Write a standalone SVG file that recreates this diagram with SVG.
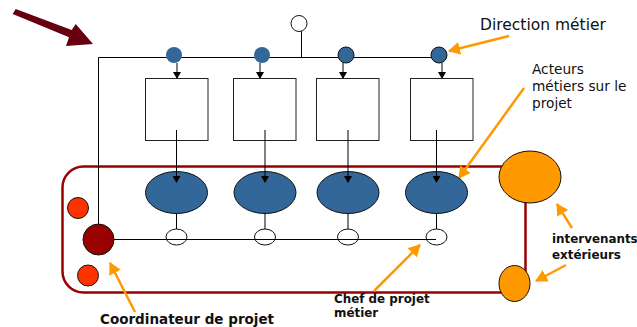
<svg xmlns="http://www.w3.org/2000/svg" width="637" height="327" viewBox="0 0 637 327">
<style>
text{font-family:"DejaVu Sans",Verdana,sans-serif;fill:#111}
.d{font-size:15.500px}
.r{font-size:13.700px}
.c{font-size:13.500px;font-weight:bold}
.b{font-size:11.900px;font-weight:bold}
.l{fill:none;stroke:#000;stroke-width:1}
.box{fill:#fff;stroke:#222;stroke-width:1}
.blue{fill:#336699;stroke:#111;stroke-width:1}
.wh{fill:#fff;stroke:#111;stroke-width:1}
.red{fill:#ff3300;stroke:#111;stroke-width:1}
.or{fill:#ff9900;stroke:#111;stroke-width:1}
.oa{fill:none;stroke:#ff9900;stroke-width:2.500;marker-end:url(#oh)}
</style>
<defs>
<marker id="ah" markerUnits="userSpaceOnUse" markerWidth="8" markerHeight="8" refX="6" refY="4" orient="auto"><path d="M0 0L7 4L0 8Z" fill="#000"/></marker>
<marker id="oh" markerUnits="userSpaceOnUse" markerWidth="14" markerHeight="14" refX="11" refY="6.500" orient="auto"><path d="M0 0L12 6.500L0 13Z" fill="#ff9900"/></marker>
</defs>
<polygon id="main-arrow" points="12.700,14 15.700,9 71.700,30 75.700,24 93,44 66,46 69,37.300" fill="#660011"/>
<g id="frame"><rect x="62.500" y="166.500" width="463" height="126" rx="21" fill="none" stroke="#990000" stroke-width="2.500"/></g>
<g id="connectors">
<path class="l" d="M98.500 239V57.500H439"/>
<path class="l" d="M301.500 31V57.500"/>
<path class="l" d="M177 63V78" marker-end="url(#ah)"/>
<path class="l" d="M260 63V78" marker-end="url(#ah)"/>
<path class="l" d="M343 63V78" marker-end="url(#ah)"/>
<path class="l" d="M442 63V78" marker-end="url(#ah)"/>
<path class="l" d="M114 239.500H436"/>
<path class="oa" d="M509 36L449 51"/>
<path class="oa" d="M524 88L459 178"/>
<path class="oa" d="M135 312L110 263"/>
<path class="oa" d="M374 291L420 245"/>
<path class="oa" d="M572 228L557 204"/>
<path class="oa" d="M566 265L536 281"/>
</g>
<g id="top-node"><circle cx="299" cy="23.500" r="8" class="wh"/></g>
<g id="direction-1"><circle cx="174" cy="55" r="8" fill="#336699"/></g>
<g id="direction-2"><circle cx="262" cy="55" r="8" fill="#336699"/></g>
<g id="direction-3"><circle cx="346" cy="55" r="8" class="blue"/></g>
<g id="direction-4"><circle cx="439" cy="55" r="8" class="blue"/></g>
<g id="box-1"><rect x="145.500" y="78.500" width="62.500" height="62" class="box"/></g>
<g id="box-2"><rect x="233.500" y="78.500" width="62.500" height="62" class="box"/></g>
<g id="box-3"><rect x="316.500" y="78.500" width="62.500" height="62" class="box"/></g>
<g id="box-4"><rect x="410.500" y="78.500" width="62.500" height="62" class="box"/></g>
<g id="actor-1"><ellipse cx="176.500" cy="192.500" rx="31" ry="21" class="blue"/></g>
<g id="actor-2"><ellipse cx="265" cy="192.500" rx="31" ry="21" class="blue"/></g>
<g id="actor-3"><ellipse cx="348" cy="192.500" rx="31" ry="21" class="blue"/></g>
<g id="actor-4"><ellipse cx="436.500" cy="192.500" rx="31" ry="21" class="blue"/></g>
<g id="connectors-inner">
<path class="l" d="M176.500 130V182" marker-end="url(#ah)"/>
<path class="l" d="M265 130V182" marker-end="url(#ah)"/>
<path class="l" d="M348 130V182" marker-end="url(#ah)"/>
<path class="l" d="M436.500 130V182" marker-end="url(#ah)"/>
<path class="l" d="M176.500 213.500V229M265 213.500V229M348 213.500V229M436.500 213.500V229"/>
</g>
<g id="chef-1"><ellipse cx="176.500" cy="237" rx="10.500" ry="8" fill="none" stroke="#111"/></g>
<g id="chef-2"><ellipse cx="265" cy="237" rx="10.500" ry="8" fill="none" stroke="#111"/></g>
<g id="chef-3"><ellipse cx="348" cy="237" rx="10.500" ry="8" fill="none" stroke="#111"/></g>
<g id="chef-4"><ellipse cx="436.500" cy="237" rx="10.500" ry="8" fill="none" stroke="#111"/></g>
<g id="coordinateur"><circle cx="98.500" cy="239.500" r="15.500" fill="#990000" stroke="#111"/></g>
<g id="red-1"><circle cx="78" cy="208" r="10.500" class="red"/></g>
<g id="red-2"><circle cx="88" cy="275.500" r="10.500" class="red"/></g>
<g id="ext-1"><ellipse cx="530" cy="177" rx="31" ry="26" class="or"/></g>
<g id="ext-2"><ellipse cx="514.500" cy="283.500" rx="15.500" ry="18" class="or"/></g>
<text class="d" x="480" y="30">Direction métier</text>
<text class="r" x="532" y="74">Acteurs</text>
<text class="r" x="532" y="91">métiers sur le</text>
<text class="r" x="532" y="108">projet</text>
<text class="c" x="100" y="324">Coordinateur de projet</text>
<text class="b" x="334" y="303">Chef de projet</text>
<text class="b" x="334" y="317">métier</text>
<text class="b" x="552" y="243">intervenants</text>
<text class="b" x="552" y="259">extérieurs</text>
</svg>
